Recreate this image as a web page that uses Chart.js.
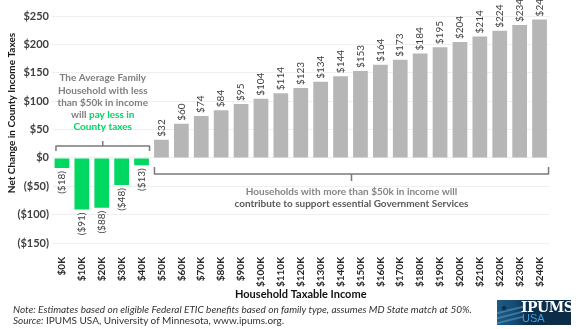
<!DOCTYPE html>
<html>
<head>
<meta charset="utf-8">
<script src="https://cdn.jsdelivr.net/npm/chart.js@4.4.1/dist/chart.umd.min.js"></script>
<style>
  html, body { margin: 0; padding: 0; background: #fff; }
  body { width: 581px; height: 329px; position: relative; overflow: hidden; font-family: Lato, "Open Sans", sans-serif; }
  #wrap { position: absolute; left: 0; top: 0; width: 581px; height: 305px; }
  .note { position: absolute; left: 13px; font-size: 10px; line-height: 12px; color: #333; white-space: nowrap; }
  .note i { font-style: italic; }
  #logo { position: absolute; left: 497px; top: 300px; width: 74px; height: 25px; overflow: hidden;
          background: linear-gradient(90deg, #1d5b86 0%, #144a70 25%, #0d2f4c 40%, #0c2b45 100%); }
  #logo .ip { position: absolute; left: 24px; top: -1px; color: #fff; font: bold 14px "DejaVu Serif", serif; letter-spacing: -0.5px; }
  #logo .usa { position: absolute; left: 25px; top: 12px; color: #3f9ee0; font: 11px "Liberation Sans", sans-serif; }
  #logo .star { position: absolute; left: 3px; top: 2px; color: #0b2a44; font-size: 9px; }
  #logo .stripe { position: absolute; left: 0; height: 2px; width: 26px; background: #5d9cc8; opacity: .55; transform: skewY(-14deg); }
</style>
</head>
<body>
<div id="wrap"><canvas id="taxChart" width="581" height="305"></canvas></div>
<div class="note" style="top:303px;"><i>Note: Estimates based on eligible Federal ETIC benefits based on family type, assumes MD State match at 50%.</i></div>
<div class="note" style="top:314px;"><i>Source:</i> IPUMS USA, University of Minnesota, www.ipums.org.</div>
<div id="logo">
  <div class="stripe" style="top:9px"></div>
  <div class="stripe" style="top:14px"></div>
  <div class="stripe" style="top:19px"></div>
  <div class="star">&#9733;</div>
  <div class="ip">IPUMS</div>
  <div class="usa">USA</div>
</div>
<script>
document.addEventListener("DOMContentLoaded", function () {
    // data
    const incomeLabels = ['$0K', '$10K', '$20K', '$30K', '$40K', '$50K', '$60K', '$70K', '$80K', '$90K',
        '$100K', '$110K', '$120K', '$130K', '$140K', '$150K', '$160K', '$170K', '$180K', '$190K',
        '$200K', '$210K', '$220K', '$230K', '$240K'];
    const taxChange = [-18, -91, -88, -48, -13, 32, 60, 74, 84, 95,
        104, 114, 123, 134, 144, 153, 164, 173, 184, 195,
        204, 214, 224, 234, 244];
    const yTicks = [-150, -100, -50, 0, 50, 100, 150, 200, 250];

    const GREEN = '#00d862';
    const GRAY_BAR = '#b6b6b6';
    const TEXT_GRAY = '#7f7f7f';
    const FONT = 'Lato, "Open Sans", sans-serif';

    const money = v => v < 0 ? '($' + Math.abs(v) + ')' : '$' + v;

    // value labels, brackets and callouts
    const annotate = {
        id: 'annotate',
        afterDatasetsDraw(chart) {
            const c = chart.ctx;
            const x = chart.scales.x, y = chart.scales.y;
            const meta = chart.getDatasetMeta(0);

            c.save();
            c.font = '10px ' + FONT;
            c.fillStyle = '#404040';
            c.textBaseline = 'middle';
            meta.data.forEach((bar, i) => {
                const v = taxChange[i];
                c.save();
                if (v >= 0) {
                    c.translate(bar.x, bar.y - 3);
                    c.rotate(-Math.PI / 2);
                    c.textAlign = 'left';
                } else {
                    c.translate(bar.x, bar.y + 3);
                    c.rotate(-Math.PI / 2);
                    c.textAlign = 'right';
                }
                c.fillText(money(v), 0, 0);
                c.restore();
            });

            // brackets
            const zero = y.getPixelForValue(0);
            c.strokeStyle = '#7a7a7a';
            c.lineWidth = 1.5;
            c.lineJoin = 'round';
            const lx0 = x.getPixelForValue(0) - 6, lx1 = x.getPixelForValue(4) + 8;
            const ly = zero - 12;
            c.beginPath();
            c.moveTo(lx0, ly + 5); c.lineTo(lx0, ly); c.lineTo(lx1, ly); c.lineTo(lx1, ly + 5);
            c.moveTo((lx0 + lx1) / 2, ly); c.lineTo((lx0 + lx1) / 2, ly - 5);
            c.stroke();

            const rx0 = x.getPixelForValue(5) - 7, rx1 = x.getPixelForValue(24) + 9;
            const ry = zero + 16;
            c.beginPath();
            c.moveTo(rx0, ry - 7); c.lineTo(rx0, ry); c.lineTo(rx1, ry); c.lineTo(rx1, ry - 7);
            c.moveTo((rx0 + rx1) / 2, ry); c.lineTo((rx0 + rx1) / 2, ry + 7);
            c.stroke();

            // left callout
            c.font = 'bold 10px ' + FONT;
            c.textAlign = 'center';
            const cx = (lx0 + lx1) / 2;
            const lines = [['The Average Family', TEXT_GRAY], ['Household with less', TEXT_GRAY],
                ['than $50k in income', TEXT_GRAY], ['will ', TEXT_GRAY, 'pay less in'], ['County taxes', GREEN]];
            lines.forEach((ln, k) => {
                const ty = 78 + k * 12.3;
                if (ln.length === 3) {
                    const w1 = c.measureText(ln[0]).width, w2 = c.measureText(ln[2]).width;
                    const sx = cx - (w1 + w2) / 2;
                    c.textAlign = 'left';
                    c.fillStyle = TEXT_GRAY; c.fillText(ln[0], sx, ty);
                    c.fillStyle = GREEN; c.fillText(ln[2], sx + w1, ty);
                    c.textAlign = 'center';
                } else {
                    c.fillStyle = ln[1];
                    c.fillText(ln[0], cx, ty);
                }
            });

            // right callout
            const rcx = (rx0 + rx1) / 2;
            c.fillStyle = '#858585';
            c.fillText('Households with more than $50k in income will', rcx, ry + 18);
            c.fillStyle = '#5a5a5a';
            c.fillText('contribute to support essential Government Services', rcx, ry + 30);

            // y axis title
            c.save();
            c.translate(12, 113);
            c.rotate(-Math.PI / 2);
            c.fillStyle = '#1a1a1a';
            c.font = 'bold 10px ' + FONT;
            c.fillText('Net Change in County Income Taxes', 0, 0);
            c.restore();
            c.restore();
        }
    };

    const ctx = document.getElementById('taxChart').getContext('2d');
    new Chart(ctx, {
        type: 'bar',
        data: {
            labels: incomeLabels,
            datasets: [{
                data: taxChange,
                backgroundColor: taxChange.map(v => v < 0 ? GREEN : GRAY_BAR),
                borderWidth: 0,
                barPercentage: 0.74,
                categoryPercentage: 1
            }]
        },
        options: {
            responsive: false,
            animation: false,
            layout: { padding: { top: 16, left: 0, right: 31.5, bottom: 0 } },
            plugins: { legend: { display: false }, tooltip: { enabled: false } },
            scales: {
                x: {
                    grid: { display: false },
                    border: { display: false },
                    ticks: {
                        autoSkip: false, minRotation: 90, maxRotation: 90, padding: 6,
                        color: '#262626', font: { family: FONT, size: 10, weight: 'bold' }
                    },
                    title: {
                        display: true, text: 'Household Taxable Income', color: '#111',
                        font: { family: FONT, size: 11, weight: 'bold' }, padding: { top: 0, bottom: 4 }
                    },
                    afterFit(scale) { scale.height = 62; }
                },
                y: {
                    min: -150, max: 250,
                    afterBuildTicks(scale) { scale.ticks = yTicks.map(v => ({ value: v })); },
                    grid: { color: '#efefef', drawTicks: false },
                    border: { display: false },
                    ticks: {
                        padding: 3, color: '#404040',
                        font: { family: FONT, size: 11, weight: 'bold' },
                        callback: v => money(v)
                    },
                    afterFit(scale) { scale.width = 52; }
                }
            }
        },
        plugins: [annotate]
    });
});
</script>
</body>
</html>
